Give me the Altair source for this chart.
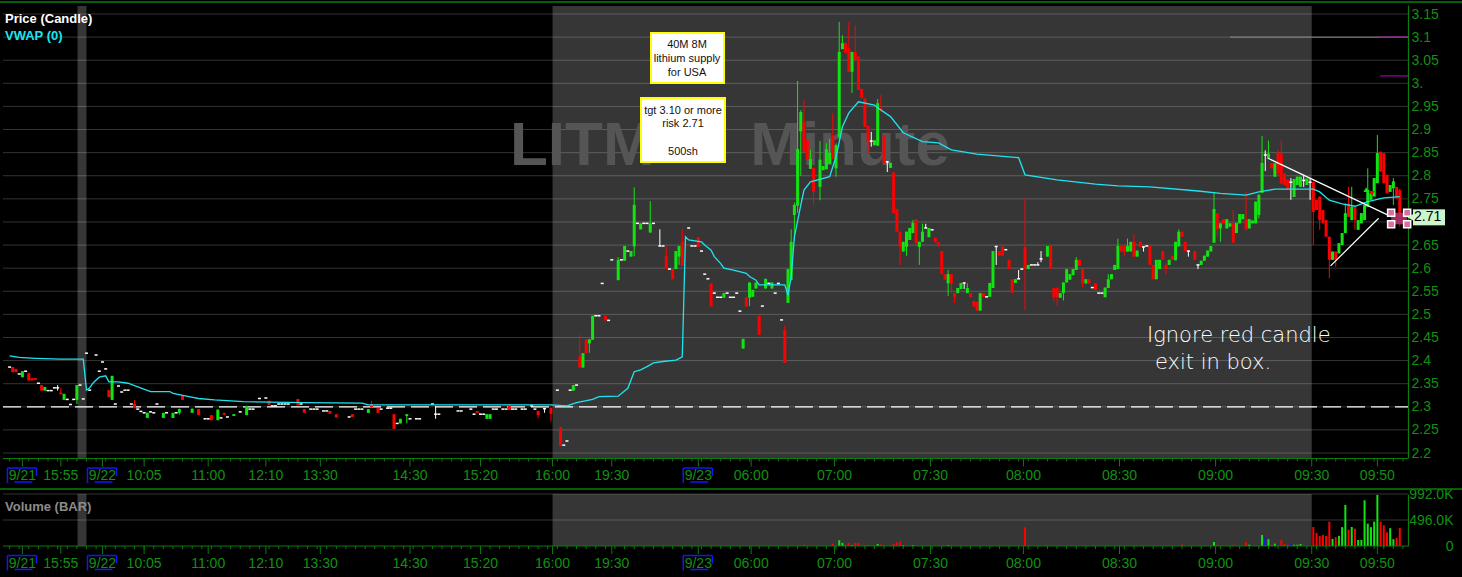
import altair as alt
import pandas as pd

# LITM one-minute bars, from the 9/21 close through the 9/23 open.
# The x axis is a compressed bar index: only minutes that printed get a slot.

_ = None  # no wick beyond the body

# Candles with a body or a range
bar_slot = [
    1, 2, 4, 6, 7, 8, 10, 11, 15, 16,
    17, 21, 31, 32, 39, 43, 48, 51, 53, 54,
    57, 59, 63, 65, 67, 70, 74, 81, 90, 92,
    100, 102, 107, 112, 113, 115, 120, 122, 124, 133,
    146, 149, 150, 156, 165, 167, 169, 172, 176, 178,
    179, 180, 181, 182, 186, 190, 192, 194, 195, 197,
    200, 203, 205, 207, 208, 209, 210, 215, 219, 223,
    229, 230, 231, 232, 233, 234, 236, 238, 242, 243,
    244, 245, 246, 247, 248, 249, 250, 251, 253, 254,
    255, 256, 257, 258, 259, 260, 261, 262, 263, 264,
    265, 266, 267, 268, 269, 270, 271, 272, 273, 274,
    275, 276, 277, 278, 279, 280, 281, 282, 283, 284,
    285, 286, 287, 289, 290, 291, 292, 293, 294, 295,
    296, 297, 298, 299, 300, 301, 302, 303, 304, 306,
    307, 308, 309, 310, 312, 313, 314, 315, 317, 318,
    321, 322, 324, 325, 326, 327, 328, 329, 330, 331,
    332, 333, 334, 335, 336, 337, 339, 342, 343, 344,
    345, 346, 347, 348, 349, 350, 351, 352, 353, 354,
    356, 357, 358, 359, 360, 361, 362, 363, 364, 365,
    366, 367, 368, 370, 371, 372, 373, 374, 375, 376,
    377, 378, 379, 380, 381, 382, 383, 384, 385, 386,
    387, 388, 389, 390, 391, 392, 393, 394, 395, 396,
    397, 398, 399, 400, 401, 402, 403, 404, 405, 406,
    407, 408, 409, 410, 411, 412, 413, 414, 415, 416,
    417, 418, 419, 420, 421, 422, 423, 424, 425, 426,
    427, 428, 429, 430, 431, 432, 433, 434,
]
bar_open = [
    2.386, 2.382, 2.364, 2.372, 2.362, 2.362, 2.347, 2.335, 2.341, 2.331,
    2.315, 2.315, 2.336, 2.315, 2.306, 2.276, 2.276, 2.276, 2.287, 2.325,
    2.287, 2.295, 2.282, 2.271, 2.287, 2.280, 2.282, 2.313, 2.317, 2.295,
    2.291, 2.284, 2.284, 2.287, 2.306, 2.297, 2.284, 2.264, 2.280, 2.284,
    2.291, 2.274, 2.274, 2.302, 2.291, 2.296, 2.298, 2.256, 2.335, 2.409,
    2.385, 2.446, 2.437, 2.445, 2.497, 2.574, 2.616, 2.625, 2.647, 2.684,
    2.677, 2.648, 2.626, 2.598, 2.598, 2.625, 2.657, 2.667, 2.567, 2.536,
    2.426, 2.537, 2.536, 2.538, 2.556, 2.497, 2.556, 2.556, 2.466, 2.525,
    2.574, 2.715, 2.735, 2.896, 2.917, 2.877, 2.815, 2.817, 2.776, 2.812,
    2.814, 2.826, 2.887, 2.816, 2.884, 3.074, 3.087, 3.076, 3.025, 3.068,
    3.058, 2.988, 2.967, 2.908, 2.875, 2.866, 2.865, 2.947, 2.888, 2.830,
    2.817, 2.807, 2.728, 2.679, 2.636, 2.646, 2.661, 2.676, 2.706, 2.646,
    2.657, 2.687, 2.667, 2.666, 2.656, 2.637, 2.587, 2.567, 2.587, 2.546,
    2.546, 2.555, 2.568, 2.546, 2.546, 2.529, 2.527, 2.508, 2.546, 2.538,
    2.557, 2.647, 2.637, 2.647, 2.618, 2.576, 2.568, 2.577, 2.646, 2.598,
    2.607, 2.620, 2.625, 2.648, 2.557, 2.558, 2.536, 2.546, 2.569, 2.575,
    2.585, 2.596, 2.618, 2.598, 2.567, 2.576, 2.567, 2.537, 2.557, 2.576,
    2.596, 2.598, 2.648, 2.648, 2.636, 2.636, 2.657, 2.625, 2.657, 2.646,
    2.648, 2.607, 2.576, 2.598, 2.637, 2.607, 2.607, 2.627, 2.617, 2.647,
    2.679, 2.657, 2.637, 2.637, 2.607, 2.607, 2.616, 2.625, 2.636, 2.655,
    2.719, 2.686, 2.706, 2.686, 2.690, 2.697, 2.676, 2.697, 2.706, 2.706,
    2.686, 2.697, 2.697, 2.715, 2.763, 2.845, 2.837, 2.827, 2.798, 2.849,
    2.848, 2.805, 2.792, 2.786, 2.754, 2.780, 2.776, 2.790, 2.780, 2.786,
    2.787, 2.748, 2.755, 2.726, 2.704, 2.668, 2.618, 2.636, 2.632, 2.650,
    2.676, 2.740, 2.704, 2.733, 2.683, 2.697, 2.704, 2.733, 2.748, 2.755,
    2.784, 2.852, 2.849, 2.802, 2.765, 2.773, 2.776, 2.769,
]
bar_high = [
    _, _, _, 2.374, _, _, _, _, 2.347, 2.341,
    _, _, _, _, 2.315, _, _, _, 2.296, _,
    _, _, _, _, _, _, _, _, _, _,
    _, _, _, _, 2.313, _, _, _, _, 2.302,
    _, _, _, 2.306, _, _, _, _, _, 2.455,
    _, _, _, _, _, 2.624, _, _, 2.775, _,
    2.745, 2.684, 2.647, _, _, _, 2.685, _, _, _,
    _, _, _, _, _, _, _, _, 2.475, _,
    2.684, 2.742, 3.005, 2.942, 2.965, _, 2.856, _, 2.875, _,
    2.870, 2.880, 2.936, 2.870, 3.133, 3.104, 3.090, 3.133, _, 3.126,
    _, _, _, _, 2.895, _, 2.966, 2.975, _, 2.832,
    _, _, _, _, _, _, _, 2.704, _, _,
    2.696, 2.696, _, _, _, _, _, 2.596, _, _,
    _, _, _, 2.567, _, _, _, _, _, _,
    _, _, _, _, _, _, _, 2.596, 2.753, _,
    2.613, 2.637, _, _, _, _, _, _, _, _,
    _, 2.624, _, _, _, _, _, _, 2.587, _,
    _, 2.664, _, _, 2.664, _, 2.674, _, _, _,
    _, _, _, _, _, 2.611, _, _, _, 2.684,
    _, _, _, _, _, _, _, _, _, 2.765,
    _, _, _, _, _, 2.726, _, _, _, 2.765,
    _, _, _, _, 2.886, 2.855, 2.876, _, _, 2.857,
    2.877, _, _, 2.795, _, _, _, 2.802, _, 2.795,
    _, _, _, _, _, _, _, _, _, _,
    2.740, 2.776, 2.776, _, _, _, _, 2.816, _, _,
    2.888, _, _, _, _, 2.795, _, 2.772,
]
bar_low = [
    _, _, _, _, _, _, _, _, 2.335, _,
    _, 2.306, _, _, _, _, _, _, 2.283, _,
    _, _, _, _, _, _, _, _, _, _,
    _, _, _, _, _, _, _, _, 2.264, 2.274,
    _, _, _, _, 2.275, 2.287, 2.268, _, _, _,
    _, _, 2.417, _, _, _, _, _, 2.626, _,
    _, _, _, _, _, 2.607, _, _, _, _,
    _, _, 2.518, _, _, _, _, _, _, _,
    _, 2.660, 2.720, 2.800, _, _, _, 2.737, 2.747, _,
    _, _, _, 2.798, 2.880, _, _, _, 2.979, _,
    _, _, _, 2.849, 2.863, _, _, _, _, 2.808,
    _, _, _, 2.607, _, 2.627, _, _, _, 2.607,
    _, _, _, _, _, _, _, 2.540, 2.546, 2.525,
    _, _, 2.555, _, _, _, _, _, _, _,
    _, 2.607, _, _, _, _, _, _, 2.509, _,
    _, 2.613, _, _, 2.527, 2.518, _, 2.530, _, _,
    _, _, _, 2.558, _, _, _, _, _, _,
    _, _, _, 2.626, _, _, _, _, _, 2.636,
    _, _, _, _, _, 2.586, _, _, _, _,
    _, _, 2.625, _, 2.598, _, _, _, _, _,
    2.668, 2.657, _, _, _, _, _, _, _, _,
    _, _, _, 2.708, _, 2.810, _, _, _, 2.798,
    _, _, _, 2.748, _, _, _, 2.776, _, 2.748,
    2.650, _, 2.683, _, _, 2.578, _, 2.603, _, _,
    _, _, _, 2.683, _, _, _, _, _, _,
    _, _, _, _, _, 2.737, _, 2.690,
]
bar_close = [
    2.375, 2.375, 2.377, 2.357, 2.357, 2.358, 2.335, 2.343, 2.341, 2.327,
    2.328, 2.347, 2.321, 2.367, 2.297, 2.287, 2.287, 2.287, 2.295, 2.315,
    2.296, 2.282, 2.271, 2.294, 2.283, 2.284, 2.302, 2.304, 2.304, 2.287,
    2.285, 2.277, 2.278, 2.295, 2.299, 2.287, 2.252, 2.274, 2.284, 2.284,
    2.287, 2.284, 2.284, 2.293, 2.282, 2.296, 2.285, 2.215, 2.347, 2.385,
    2.416, 2.416, 2.446, 2.497, 2.487, 2.618, 2.648, 2.637, 2.737, 2.697,
    2.697, 2.648, 2.598, 2.576, 2.637, 2.648, 2.605, 2.646, 2.517, 2.546,
    2.447, 2.517, 2.569, 2.553, 2.569, 2.456, 2.577, 2.569, 2.395, 2.598,
    2.657, 2.737, 2.858, 2.938, 2.852, 2.834, 2.836, 2.765, 2.835, 2.821,
    2.857, 2.850, 2.837, 2.866, 3.068, 3.087, 3.066, 3.025, 3.068, 3.050,
    2.986, 2.968, 2.906, 2.874, 2.875, 2.877, 2.957, 2.939, 2.827, 2.830,
    2.828, 2.719, 2.679, 2.646, 2.657, 2.679, 2.687, 2.698, 2.654, 2.657,
    2.679, 2.687, 2.687, 2.656, 2.647, 2.587, 2.575, 2.587, 2.567, 2.538,
    2.557, 2.568, 2.568, 2.557, 2.537, 2.517, 2.508, 2.546, 2.538, 2.568,
    2.637, 2.647, 2.627, 2.627, 2.598, 2.547, 2.576, 2.577, 2.599, 2.607,
    2.607, 2.620, 2.648, 2.598, 2.537, 2.537, 2.546, 2.569, 2.598, 2.587,
    2.598, 2.618, 2.605, 2.567, 2.576, 2.567, 2.553, 2.558, 2.576, 2.587,
    2.607, 2.648, 2.636, 2.636, 2.648, 2.657, 2.625, 2.638, 2.646, 2.646,
    2.607, 2.576, 2.618, 2.618, 2.618, 2.598, 2.618, 2.618, 2.657, 2.679,
    2.668, 2.637, 2.637, 2.618, 2.607, 2.616, 2.627, 2.638, 2.648, 2.728,
    2.684, 2.697, 2.697, 2.706, 2.697, 2.655, 2.698, 2.717, 2.717, 2.683,
    2.706, 2.703, 2.744, 2.759, 2.828, 2.845, 2.848, 2.816, 2.827, 2.805,
    2.783, 2.780, 2.771, 2.786, 2.793, 2.798, 2.798, 2.790, 2.794, 2.786,
    2.722, 2.726, 2.704, 2.697, 2.668, 2.618, 2.636, 2.618, 2.654, 2.676,
    2.719, 2.711, 2.733, 2.704, 2.704, 2.719, 2.737, 2.769, 2.762, 2.795,
    2.849, 2.809, 2.784, 2.762, 2.780, 2.788, 2.751, 2.710,
]

# Single-print minutes (open = high = low = close)
flat_slot = [
    0, 3, 5, 9, 12, 13, 14, 18, 19, 20,
    22, 23, 24, 25, 27, 28, 29, 30, 33, 34,
    35, 36, 37, 38, 40, 41, 42, 44, 45, 46,
    49, 52, 61, 62, 66, 68, 72, 75, 76, 78,
    80, 82, 83, 84, 85, 86, 87, 91, 94, 95,
    96, 98, 99, 106, 108, 109, 110, 116, 118, 119,
    121, 125, 127, 128, 132, 134, 140, 141, 144, 145,
    147, 148, 151, 152, 154, 155, 157, 158, 160, 161,
    163, 164, 171, 173, 174, 175, 177, 183, 184, 185,
    187, 188, 191, 193, 196, 198, 199, 201, 204, 206,
    212, 213, 214, 216, 217, 218, 220, 221, 222, 224,
    225, 226, 227, 228, 235, 237, 239, 240, 241, 288,
    305, 311, 316, 319, 320, 338, 340, 341, 355,
]
flat_price = [
    2.386, 2.371, 2.377, 2.351, 2.335, 2.335, 2.341, 2.316, 2.305, 2.316,
    2.347, 2.317, 2.416, 2.336, 2.412, 2.377, 2.397, 2.382, 2.306, 2.345,
    2.332, 2.336, 2.336, 2.306, 2.295, 2.290, 2.287, 2.289, 2.287, 2.306,
    2.287, 2.287, 2.274, 2.274, 2.276, 2.278, 2.289, 2.295, 2.295, 2.318,
    2.319, 2.302, 2.302, 2.306, 2.306, 2.306, 2.306, 2.306, 2.295, 2.295,
    2.295, 2.291, 2.291, 2.278, 2.295, 2.295, 2.295, 2.295, 2.297, 2.297,
    2.264, 2.274, 2.274, 2.274, 2.306, 2.284, 2.291, 2.291, 2.295, 2.284,
    2.284, 2.284, 2.295, 2.295, 2.295, 2.295, 2.295, 2.295, 2.295, 2.295,
    2.302, 2.295, 2.336, 2.217, 2.226, 2.336, 2.347, 2.497, 2.497, 2.567,
    2.487, 2.618, 2.618, 2.637, 2.697, 2.697, 2.697, 2.697, 2.648, 2.598,
    2.687, 2.648, 2.648, 2.637, 2.587, 2.577, 2.546, 2.537, 2.537, 2.546,
    2.537, 2.537, 2.546, 2.507, 2.518, 2.567, 2.546, 2.567, 2.488, 2.683,
    2.538, 2.640, 2.598, 2.607, 2.607, 2.558, 2.546, 2.546, 2.648,
]

# Volume, thousands of shares
vol_slot = [
    248, 257, 259, 260, 261, 262, 263, 264, 265, 266,
    267, 268, 271, 272, 273, 274, 276, 277, 278, 279,
    282, 293, 317, 366, 376, 377, 382, 386, 387, 391,
    392, 393, 394, 395, 397, 398, 399, 400, 401, 402,
    403, 406, 407, 408, 409, 410, 411, 412, 413, 414,
    415, 416, 417, 418, 419, 420, 421, 422, 423, 424,
    425, 426, 427, 428, 429, 430, 431, 432, 433, 434,
]
vol_k = [
    25, 45, 110, 60, 25, 60, 20, 60, 60, 20,
    20, 20, 40, 30, 20, 15, 40, 70, 85, 15,
    15, 15, 357, 30, 76, 25, 25, 76, 25, 210,
    170, 130, 25, 45, 115, 35, 25, 40, 25, 25,
    40, 20, 362, 250, 190, 210, 190, 465, 135, 170,
    195, 360, 785, 312, 362, 330, 115, 115, 872, 426,
    360, 465, 975, 465, 395, 260, 340, 130, 155, 345,
]

# Session VWAP
vwap_slot = [
    0, 3, 8, 16, 23, 24, 25, 26, 27, 28,
    30, 31, 34, 37, 40, 44, 50, 51, 56, 59,
    64, 73, 92, 110, 112, 135, 160, 169, 174, 177,
    182, 184, 190, 191, 193, 194, 195, 197, 199, 201,
    204, 208, 210, 211, 212, 216, 217, 219, 220, 222,
    223, 226, 230, 231, 233, 234, 242, 243, 244, 245,
    247, 248, 250, 256, 258, 260, 262, 265, 270, 271,
    275, 279, 285, 290, 294, 302, 315, 317, 327, 339,
    346, 356, 371, 378, 386, 390, 395, 407, 409, 412,
    416, 420, 424, 429, 434,
]
vwap_price = [
    2.410, 2.407, 2.405, 2.403, 2.403, 2.336, 2.341, 2.351, 2.358, 2.364,
    2.367, 2.354, 2.354, 2.351, 2.343, 2.333, 2.333, 2.329, 2.322, 2.318,
    2.315, 2.311, 2.309, 2.308, 2.304, 2.304, 2.304, 2.304, 2.302, 2.309,
    2.316, 2.322, 2.323, 2.329, 2.340, 2.358, 2.376, 2.380, 2.387, 2.395,
    2.398, 2.401, 2.408, 2.668, 2.661, 2.657, 2.650, 2.639, 2.625, 2.610,
    2.600, 2.596, 2.589, 2.582, 2.574, 2.564, 2.564, 2.542, 2.581, 2.667,
    2.737, 2.769, 2.787, 2.798, 2.841, 2.906, 2.936, 2.960, 2.953, 2.947,
    2.928, 2.893, 2.874, 2.871, 2.856, 2.847, 2.839, 2.802, 2.791, 2.782,
    2.778, 2.776, 2.767, 2.762, 2.758, 2.765, 2.771, 2.771, 2.765, 2.747,
    2.739, 2.734, 2.744, 2.752, 2.755,
]

# Time-axis labels (slot positions) and session dates
tick_slot = [4, 16, 29, 42, 62, 80, 97, 125, 147, 169.5,
             188, 215, 231.5, 257.5, 287.5, 316.5, 346.5, 376.5, 406.5, 427]
tick_text = ["9/21", "15:55", "9/22", "10:05", "11:00", "12:10", "13:30", "14:30", "15:20", "16:00",
             "19:30", "9/23", "06:00", "07:00", "07:30", "08:00", "08:30", "09:00", "09:30", "09:50"]
date_labels = ["9/21", "9/22", "9/23"]

# Extended-hours shading, in slots
shade_start = [21.2, 169.5]
shade_end = [24.0, 406.5]

# Price gridlines and axis values
price_ticks = [2.2, 2.25, 2.3, 2.35, 2.4, 2.45, 2.5, 2.55, 2.6, 2.65,
               2.7, 2.75, 2.8, 2.85, 2.9, 2.95, 3.0, 3.05, 3.1, 3.15]
vol_ticks = [0, 496000, 992000]

# Drawn studies: wedge lines, target level, exit box
wedge_x0 = [392.8, 412.4]
wedge_p0 = [2.838, 2.605]
wedge_x1 = [431.5, 427.4]
wedge_p1 = [2.711, 2.708]
target_price = 3.10
alert_levels = [3.10, 3.016]
exit_box_x = [431.3, 436.3]
exit_box_p = [2.720, 2.695]
last_price = 2.71

# Sticky-note text, one entry per line
note_trade = ["40M 8M", "lithium supply", "for USA"]
note_plan = ["tgt 3.10 or more", "risk 2.71", "", "500sh"]

assert len(bar_slot) == len(bar_open) == len(bar_high) == len(bar_low) == len(bar_close)
assert len(flat_slot) == len(flat_price)
assert len(vol_slot) == len(vol_k)
assert len(vwap_slot) == len(vwap_price)
assert len(tick_slot) == len(tick_text)

# ---------------------------------------------------------------- tables
rows = []
for s, o, h, l, c in zip(bar_slot, bar_open, bar_high, bar_low, bar_close):
    top, bot = max(o, c), min(o, c)
    rows.append({
        "slot": s, "top": top, "bot": bot,
        "hi": max(top, h if h is not None else top),
        "lo": min(bot, l if l is not None else bot),
        "dir": "up" if c > o else ("down" if c < o else "flat"),
    })
cand = pd.DataFrame(rows)
bodies = cand[cand["dir"] != "flat"]
wicks = cand[cand["hi"] > cand["lo"]]
flats = pd.concat([
    pd.DataFrame({"slot": flat_slot, "price": flat_price}),
    cand[cand["dir"] == "flat"][["slot", "top"]].rename(columns={"top": "price"}),
])
dir_by_slot = dict(zip(cand["slot"], cand["dir"]))
for s in flat_slot:
    dir_by_slot[s] = "flat"
vol = pd.DataFrame({"slot": vol_slot, "v": [k * 1000 for k in vol_k]})
vol["dir"] = [dir_by_slot.get(s, "flat") for s in vol_slot]
vwap = pd.DataFrame({"slot": vwap_slot, "p": vwap_price})
ticks = pd.DataFrame({"slot": tick_slot, "text": tick_text})
dates = ticks[ticks["text"].isin(date_labels)]
minor = pd.DataFrame({"slot": list(range(0, 436, 3))})
shade = pd.DataFrame({"s": shade_start, "e": shade_end})
one = pd.DataFrame({"k": [0]})

# the last-price tag sits over its own axis label, so that label is not drawn
price_labels = [v for v in price_ticks if abs(v - round(last_price, 1)) > 1e-9]

# ---------------------------------------------------------------- styling
GREEN = "#12e412"
RED = "#ff0000"
BLUE = "#1414ff"
CYAN = "#1ee4f0"
AXIS_GREEN = "#0b7d0b"
LABEL_GREEN = "#119111"
SHADE = "#363636"
FONT = "Liberation Sans"

W, H = 1405, 541
P_TOP, P_BOT = 0, 453      # price panel (px inside the view)
V_TOP, V_BOT = 489, 541    # volume panel

xs = alt.Scale(domain=[-0.5, 435], nice=False, zero=False)
ps = alt.Scale(domain=[2.1892, 3.1695], range=[P_BOT, P_TOP], nice=False, zero=False)
vs = alt.Scale(domain=[0, 992000], range=[V_BOT, V_TOP], nice=False)


def X(field):
    return alt.X(f"{field}:Q", scale=xs, axis=None)


def PY(field, axis=None):
    return alt.Y(f"{field}:Q", scale=ps, axis=axis)


def label(text, x, y, **style):
    return alt.Chart(one).mark_text(text=text, **style).encode(x=alt.value(x), y=alt.value(y))


candle_color = alt.Color("dir:N", legend=None,
                         scale=alt.Scale(domain=["up", "down", "flat"], range=[GREEN, RED, "white"]))
volume_color = alt.Color("dir:N", legend=None,
                         scale=alt.Scale(domain=["up", "down", "flat"], range=[GREEN, RED, BLUE]))

layers = []

# extended-hours shading in both panels
for y0, y1 in [(P_TOP + 1, P_BOT), (V_TOP, V_BOT)]:
    layers.append(alt.Chart(shade).mark_rect(color=SHADE).encode(
        x=X("s"), x2="e:Q", y=alt.value(y0), y2=alt.value(y1)))

# price gridlines, carrying the right-hand price axis
price_axis = alt.Axis(
    orient="right", values=price_labels, title=None, grid=False, ticks=False, tickSize=0,
    labelExpr="datum.value == 3 ? '3.' : format(datum.value, '.2~f')",
    labelColor=LABEL_GREEN, labelFont=FONT, labelFontSize=14, labelPadding=3,
    labelAlign="left", labelBaseline="middle", labelFlush=False, labelOverlap=False,
    domainColor=AXIS_GREEN, domainWidth=1.2)
layers.append(alt.Chart(pd.DataFrame({"v": price_ticks})).mark_rule(
    color="white", opacity=0.2).encode(
    x=alt.value(0), x2=alt.value(W), y=PY("v", price_axis)))

# volume gridlines, carrying the volume axis
vol_axis = alt.Axis(
    orient="right", values=vol_ticks, title=None, grid=False, ticks=False, tickSize=0,
    labelExpr="datum.value == 0 ? '0' : format(datum.value / 1000, '.1f') + 'K'",
    labelColor=LABEL_GREEN, labelFont=FONT, labelFontSize=14, labelPadding=45,
    labelAlign="right", labelBaseline="middle", labelFlush=False, labelOverlap=False,
    domainColor=AXIS_GREEN, domainWidth=1.2)
layers.append(alt.Chart(pd.DataFrame({"v": vol_ticks[1:]})).mark_rule(
    color="white", opacity=0.2).encode(
    x=alt.value(0), x2=alt.value(W), y=alt.Y("v:Q", scale=vs, axis=vol_axis)))

# symbol / interval watermark
watermark = dict(font=FONT, fontSize=62, fontWeight="bold", color="#555555", baseline="alphabetic")
layers.append(label("LITM", 507, 160, align="left", **watermark))
layers.append(label("Minute", 947, 160, align="right", **watermark))

# previous-close reference (dashed) and the target level
layers.append(alt.Chart(pd.DataFrame({"v": [2.30]})).mark_rule(
    color="white", strokeDash=[18, 6], strokeWidth=1.3).encode(
    x=alt.value(0), x2=alt.value(W), y=PY("v")))
layers.append(alt.Chart(pd.DataFrame({"v": [target_price]})).mark_rule(
    color="#8c8c8c", strokeWidth=1).encode(
    x=alt.value(1227), x2=alt.value(W), y=PY("v")))
layers.append(alt.Chart(pd.DataFrame({"v": alert_levels})).mark_rule(
    color="#c000c0", strokeWidth=1).encode(
    x=alt.value(1377), x2=alt.value(W), y=PY("v")))

# candles
layers.append(alt.Chart(wicks).mark_rule(strokeWidth=1).encode(
    x=X("slot"), y=PY("hi"), y2="lo:Q", color=candle_color))
layers.append(alt.Chart(bodies).mark_bar(size=3).encode(
    x=X("slot"), y=PY("top"), y2="bot:Q", color=candle_color))
layers.append(alt.Chart(flats).mark_rule(
    color="white", strokeWidth=1.5, xOffset=-1.5, x2Offset=1.5).encode(
    x=X("slot"), x2="slot:Q", y=PY("price")))

# VWAP
layers.append(alt.Chart(vwap).mark_line(color=CYAN, strokeWidth=1.3).encode(
    x=X("slot"), y=PY("p")))

# wedge lines and signal arrows
layers.append(alt.Chart(pd.DataFrame({
    "x0": wedge_x0, "p0": wedge_p0, "x1": wedge_x1, "p1": wedge_p1})).mark_rule(
    color="white", strokeWidth=1.2).encode(
    x=X("x0"), y=PY("p0"), x2="x1:Q", y2="p1:Q"))
layers.append(alt.Chart(pd.DataFrame({"slot": [423.5], "p": [2.770]})).mark_point(
    shape="triangle-up", filled=True, size=30, color=GREEN, opacity=1).encode(
    x=X("slot"), y=PY("p")))
layers.append(alt.Chart(pd.DataFrame({"slot": [425.3], "p": [2.762]})).mark_point(
    shape="triangle-down", filled=True, size=30, color=RED, opacity=1).encode(
    x=X("slot"), y=PY("p")))

# exit box on the last bar
layers.append(alt.Chart(pd.DataFrame({
    "x0": [exit_box_x[0]], "x1": [exit_box_x[1]],
    "p0": [exit_box_p[0]], "p1": [exit_box_p[1]]})).mark_rect(
    color="#b0306a", opacity=0.9).encode(
    x=X("x0"), x2="x1:Q", y=PY("p0"), y2="p1:Q"))
corners = pd.DataFrame({
    "slot": [exit_box_x[0], exit_box_x[1], exit_box_x[0], exit_box_x[1]],
    "p": [exit_box_p[0], exit_box_p[0], exit_box_p[1], exit_box_p[1]]})
layers.append(alt.Chart(corners).mark_square(
    size=50, fill="#d8709f", stroke="white", strokeWidth=1.5, opacity=1).encode(
    x=X("slot"), y=PY("p")))

# volume bars
layers.append(alt.Chart(vol).mark_bar(size=2).encode(
    x=X("slot"), y=alt.Y("v:Q", scale=vs, axis=None, stack=None), color=volume_color))

# time axes under both panels
for base in [P_BOT + 0.5, V_BOT]:
    layers.append(alt.Chart(one).mark_rule(color=AXIS_GREEN, strokeWidth=1.2).encode(
        x=alt.value(0), x2=alt.value(W), y=alt.value(base)))
    layers.append(alt.Chart(minor).mark_rule(color=AXIS_GREEN).encode(
        x=X("slot"), y=alt.value(base), y2=alt.value(base + 3)))
    layers.append(alt.Chart(ticks).mark_rule(color=AXIS_GREEN).encode(
        x=X("slot"), y=alt.value(base), y2=alt.value(base + 8)))
    layers.append(alt.Chart(ticks).mark_text(
        font=FONT, fontSize=14, color=LABEL_GREEN, align="center", baseline="middle").encode(
        x=X("slot"), y=alt.value(base + 17.5), text="text:N"))
    layers.append(alt.Chart(dates).mark_rule(
        color=BLUE, strokeWidth=1.5, xOffset=-15, x2Offset=14).encode(
        x=X("slot"), x2="slot:Q", y=alt.value(base + 9.5)))
    layers.append(alt.Chart(dates).mark_rule(color=BLUE, strokeWidth=1.5, xOffset=-15).encode(
        x=X("slot"), y=alt.value(base + 9.5), y2=alt.value(base + 24.5)))
    layers.append(alt.Chart(dates).mark_rule(color=BLUE, strokeWidth=1.5, xOffset=14).encode(
        x=X("slot"), y=alt.value(base + 9.5), y2=alt.value(base + 17.5)))
    layers.append(alt.Chart(dates).mark_rule(
        color=BLUE, strokeWidth=1.5, xOffset=-8, x2Offset=10).encode(
        x=X("slot"), x2="slot:Q", y=alt.value(base + 23.5)))

# frame lines
layers.append(alt.Chart(one).mark_rule(color=AXIS_GREEN, strokeWidth=1.5).encode(
    x=alt.value(-3), x2=alt.value(1459), y=alt.value(-3)))
layers.append(alt.Chart(one).mark_rule(color=AXIS_GREEN, strokeWidth=1.5).encode(
    x=alt.value(-3), x2=alt.value(1459), y=alt.value(484)))

# panel titles
title_style = dict(font=FONT, fontSize=13, fontWeight="bold", align="left", baseline="middle")
layers.append(label("Price (Candle)", 2, 14, color="white", **title_style))
layers.append(label("VWAP (0)", 2, 31, color=CYAN, **title_style))
layers.append(label("Volume (BAR)", 2, 502, color="#8c8c8c", **title_style))

# sticky notes
note_style = dict(font=FONT, fontSize=11, color="#111111", align="center", baseline="middle")
layers.append(alt.Chart(one).mark_rect(fill="white", stroke="#ffff00", strokeWidth=2).encode(
    x=alt.value(648), x2=alt.value(721), y=alt.value(28), y2=alt.value(78)))
for i, line in enumerate(note_trade):
    layers.append(label(line, 684, 40 + 14.2 * i, **note_style))
layers.append(alt.Chart(one).mark_rect(fill="white", stroke="#ffff00", strokeWidth=2).encode(
    x=alt.value(638), x2=alt.value(722), y=alt.value(93), y2=alt.value(157)))
for i, line in enumerate(note_plan):
    if line:
        layers.append(label(line, 680, 105.7 + 13.7 * i, **note_style))

# handwritten reminder
hand = dict(font="DejaVu Sans", fontSize=21, fontWeight=200, color="white",
            align="left", baseline="middle")
layers.append(label("Ignore red candle", 1144, 331, **hand))
layers.append(label("exit in box.", 1152, 358, **hand))

# last-price tag
tag = pd.DataFrame({"p": [last_price], "t": [f"{last_price:.2f}"]})
layers.append(alt.Chart(tag).mark_rect(color="#ccf5cc", yOffset=-8, y2Offset=8).encode(
    x=alt.value(1410), x2=alt.value(1442), y=PY("p"), y2="p:Q"))
layers.append(alt.Chart(tag).mark_point(
    shape="triangle-left", filled=True, size=70, color="#ccf5cc", opacity=1).encode(
    x=alt.value(1408), y=PY("p")))
layers.append(alt.Chart(tag).mark_text(
    font=FONT, fontSize=14, color="black", align="left", baseline="middle").encode(
    x=alt.value(1411), y=PY("p"), text="t:N"))

chart = alt.layer(*layers).resolve_scale(
    y="independent", color="independent"
).properties(
    width=W, height=H, background="black", autosize="none",
    padding={"left": 3, "top": 5, "right": 54, "bottom": 31},
).configure_view(strokeWidth=0)

chart.save("out.html", embed_options={"renderer": "svg", "actions": False})
